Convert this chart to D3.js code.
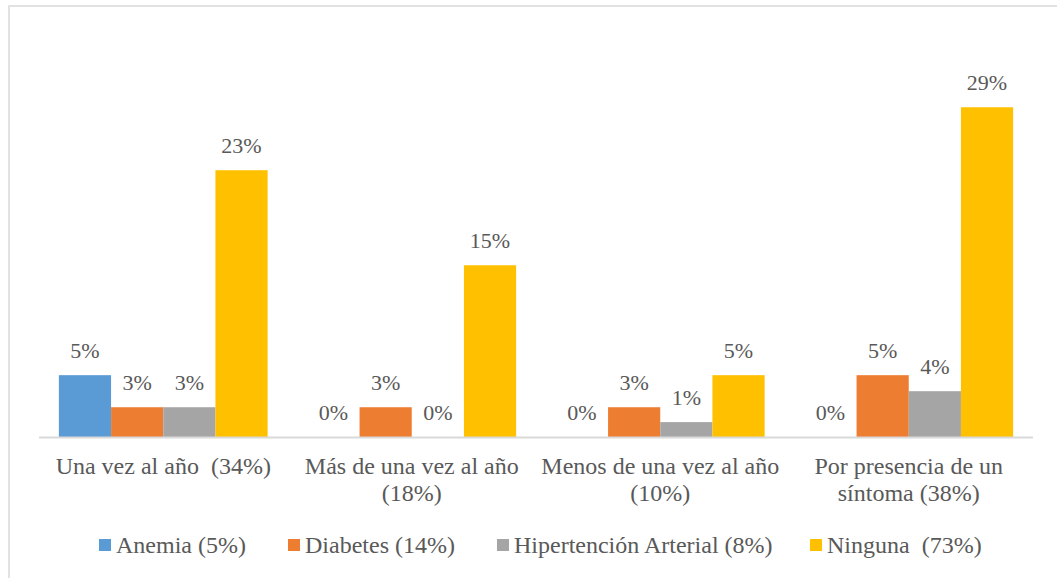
<!DOCTYPE html>
<html>
<head>
<meta charset="utf-8">
<script src="https://cdn.jsdelivr.net/npm/d3@7"></script>
<style>
  body { margin: 0; background: #fff; }
</style>
</head>
<body>
<svg></svg>
<script>
var w = 1057,
    h = 578;

var categories = [["Una vez al año  (34%)"], ["Más de una vez al año", "(18%)"], ["Menos de una vez al año", "(10%)"], ["Por presencia de un", "síntoma (38%)"]];
var seriesNames = ["Anemia (5%)", "Diabetes (14%)", "Hipertención Arterial (8%)", "Ninguna  (73%)"];
var anemia = [5.4, 0, 0, 0];
var diabetes = [2.6, 2.6, 2.6, 5.4];
var hipertension = [2.6, 0, 1.3, 4.0];
var ninguna = [23.3, 15.0, 5.4, 28.8];
var colors = ["#5b9bd5", "#ed7d31", "#a5a5a5", "#ffc000"];

var series = [anemia, diabetes, hipertension, ninguna];
var font = "Liberation Serif";
var txtColor = "#595959";

var svg = d3.select("svg")
  .attr("width", w)
  .attr("height", h);

// outer frame
svg.append("rect")
  .attr("x", 9).attr("y", 6)
  .attr("width", 1100).attr("height", 600)
  .attr("fill", "none")
  .attr("stroke", "#d9d9d9")
  .attr("stroke-width", 1.5);

var left = 39, right = 1033, baseY = 437;

var x0 = d3.scaleBand()
  .domain(d3.range(categories.length))
  .range([left, right])
  .paddingInner(0.16)
  .paddingOuter(0.08);

var x1 = d3.scaleBand()
  .domain(d3.range(series.length))
  .range([0, x0.bandwidth()]);

// 11.45 px per percent
var y = d3.scaleLinear()
  .domain([0, 30])
  .range([baseY, baseY - 30 * 11.45]);

var groups = svg.selectAll("g.grp")
  .data(categories)
  .enter()
  .append("g")
  .attr("class", "grp")
  .attr("transform", function(d, i){ return "translate(" + x0(i) + ",0)"; });

groups.each(function(c, ci){
  var g = d3.select(this);
  var vals = series.map(function(s){ return s[ci]; });

  g.selectAll("rect")
    .data(vals)
    .enter()
    .append("rect")
    .attr("x", function(d, si){ return x1(si); })
    .attr("y", function(d){ return y(d); })
    .attr("width", x1.bandwidth())
    .attr("height", function(d){ return baseY - y(d); })
    .attr("fill", function(d, si){ return colors[si]; });

  g.selectAll("text.lbl")
    .data(vals)
    .enter()
    .append("text")
    .attr("class", "lbl")
    .attr("x", function(d, si){ return x1(si) + x1.bandwidth() / 2; })
    .attr("y", function(d){ return y(d) - 17; })
    .attr("text-anchor", "middle")
    .attr("font-family", font)
    .attr("font-size", 22)
    .attr("fill", txtColor)
    .text(function(d){ return Math.round(d) + "%"; });
});

// baseline
svg.append("line")
  .attr("x1", left).attr("x2", right)
  .attr("y1", baseY + 0.5).attr("y2", baseY + 0.5)
  .attr("stroke", "#d9d9d9")
  .attr("stroke-width", 2);

// category labels
groups.append("text")
  .attr("text-anchor", "middle")
  .attr("font-family", font)
  .attr("font-size", 24)
  .attr("fill", txtColor)
  .style("white-space", "pre")
  .selectAll("tspan")
  .data(function(d){ return d; })
  .enter()
  .append("tspan")
  .attr("x", x0.bandwidth() / 2)
  .attr("y", function(d, i){ return 474 + i * 27; })
  .text(function(d){ return d; });

// legend
var legX = [99, 288, 497, 810];
var leg = svg.selectAll("g.leg")
  .data(seriesNames)
  .enter()
  .append("g")
  .attr("class", "leg")
  .attr("transform", function(d, i){ return "translate(" + legX[i] + ",545)"; });

leg.append("rect")
  .attr("x", 0).attr("y", -6)
  .attr("width", 12).attr("height", 12)
  .attr("fill", function(d, i){ return colors[i]; });

leg.append("text")
  .attr("x", 17)
  .attr("y", 8)
  .attr("font-family", font)
  .attr("font-size", 24)
  .attr("fill", txtColor)
  .style("white-space", "pre")
  .text(function(d){ return d; });
</script>
</body>
</html>
